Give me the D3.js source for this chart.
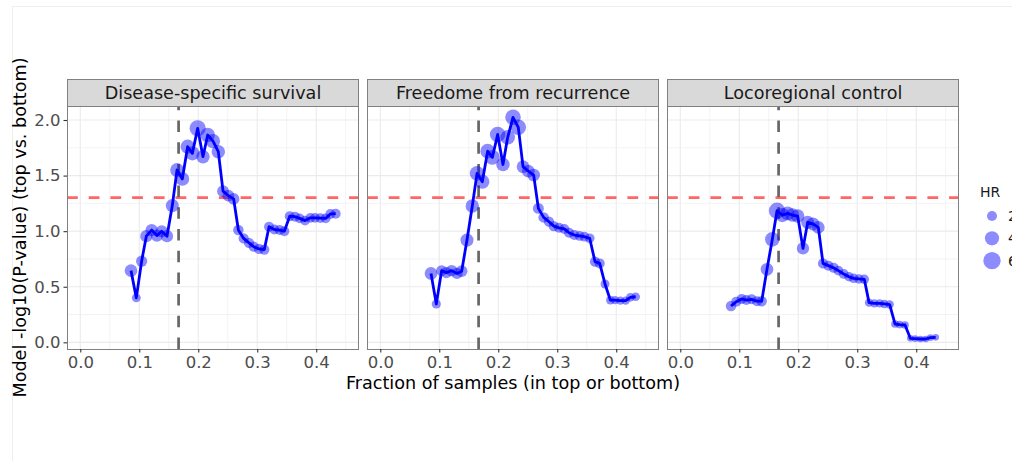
<!DOCTYPE html>
<html>
<head>
<meta charset="utf-8">
<script src="https://cdn.jsdelivr.net/npm/d3@7/dist/d3.min.js"></script>
<style>
  body { margin: 0; background: #fff; }
  svg { display: block; font-family: "DejaVu Sans", sans-serif; }
</style>
</head>
<body>
<div id="chart"></div>
<script>
// fraction of samples put in the top / bottom group (shared by all panels)
var fractions = [0.086, 0.095, 0.104, 0.112, 0.121, 0.130, 0.138, 0.147, 0.156, 0.164,
  0.173, 0.182, 0.190, 0.199, 0.208, 0.216, 0.225, 0.234, 0.242, 0.251,
  0.260, 0.268, 0.277, 0.286, 0.294, 0.303, 0.312, 0.320, 0.329, 0.338,
  0.346, 0.355, 0.364, 0.372, 0.381, 0.390, 0.398, 0.407, 0.416, 0.424, 0.433];

var panelTitles = ["Disease-specific survival", "Freedome from recurrence", "Locoregional control"];

// -log10(P) per panel
var dssValues = [0.645, 0.40, 0.73, 0.955, 1.01, 0.96, 1.00, 0.955, 1.23, 1.55,
  1.47, 1.76, 1.70, 1.925, 1.67, 1.865, 1.81, 1.715, 1.36, 1.32,
  1.29, 1.01, 0.935, 0.895, 0.86, 0.84, 0.835, 1.04, 1.015, 1.01,
  1.00, 1.135, 1.13, 1.115, 1.095, 1.12, 1.12, 1.118, 1.115, 1.155, 1.157];
var ffrValues = [0.62, 0.345, 0.645, 0.627, 0.645, 0.62, 0.64, 0.92, 1.226, 1.52,
  1.445, 1.72, 1.664, 1.87, 1.60, 1.844, 2.024, 1.934, 1.58, 1.54,
  1.505, 1.205, 1.124, 1.085, 1.046, 1.03, 1.02, 0.986, 0.965, 0.957,
  0.95, 0.936, 0.726, 0.71, 0.525, 0.38, 0.38, 0.375, 0.375, 0.405, 0.41];
var lrcValues = [0.327, 0.366, 0.39, 0.38, 0.387, 0.37, 0.37, 0.657, 0.926, 1.184,
  1.145, 1.16, 1.145, 1.136, 0.845, 1.08, 1.065, 1.034, 0.71, 0.69,
  0.67, 0.645, 0.615, 0.59, 0.576, 0.57, 0.567, 0.357, 0.35, 0.35,
  0.345, 0.34, 0.165, 0.16, 0.156, 0.036, 0.033, 0.03, 0.03, 0.042, 0.045];

// hazard ratio per point (point size)
var dssHR = [3.2, 1.6, 2.5, 3.0, 3.0, 3.0, 2.9, 3.0, 3.4, 3.8,
  3.8, 4.0, 4.0, 5.2, 3.6, 4.2, 4.0, 3.6, 2.8, 2.8,
  2.7, 2.2, 2.1, 2.1, 2.1, 2.1, 2.1, 2.0, 2.0, 2.0,
  2.0, 2.0, 2.0, 1.9, 1.9, 1.9, 1.9, 1.9, 1.9, 2.0, 2.0];
var ffrHR = [3.2, 1.7, 2.4, 2.5, 2.6, 2.5, 2.7, 3.4, 3.6, 4.2,
  4.0, 4.2, 4.4, 4.8, 3.6, 4.2, 4.8, 4.8, 3.2, 3.2,
  3.2, 2.4, 2.2, 2.1, 2.1, 2.0, 2.0, 2.0, 2.0, 1.9,
  1.9, 1.9, 2.1, 2.0, 1.6, 1.5, 1.4, 1.4, 1.4, 1.5, 1.5];
var lrcHR = [2.2, 2.0, 2.0, 2.0, 2.0, 2.0, 2.2, 3.2, 4.2, 5.3,
  4.0, 3.8, 3.7, 3.6, 3.0, 3.4, 3.4, 3.2, 2.1, 2.0,
  2.0, 1.9, 1.9, 1.8, 1.8, 1.8, 1.8, 1.4, 1.4, 1.4,
  1.4, 1.4, 1.2, 1.2, 1.2, 0.9, 0.9, 0.9, 0.9, 0.9, 0.9];

var xTicks = [0, 0.1, 0.2, 0.3, 0.4];
var xMinor = [0.05, 0.15, 0.25, 0.35, 0.45];
var yTicks = [0, 0.5, 1, 1.5, 2];
var yMinor = [0.25, 0.75, 1.25, 1.75];
var hrBreaks = [2, 4, 6];
var pCutoff = 0.05;
var splitFraction = 1 / 6;

var panels = [
  {title: panelTitles[0], values: dssValues, hr: dssHR},
  {title: panelTitles[1], values: ffrValues, hr: ffrHR},
  {title: panelTitles[2], values: lrcValues, hr: lrcHR}
];

var width = 1012, height = 461;
var panelLeft = [67, 367, 667], panelW = 292;
var panelTop = 106, panelBottom = 349, stripTop = 79;

var svg = d3.select("#chart").append("svg")
  .attr("width", width)
  .attr("height", height);

// faint outer frame
svg.append("rect")
  .attr("x", 12.5).attr("y", 6.5)
  .attr("width", 1100).attr("height", 500)
  .attr("fill", "none")
  .attr("stroke", "#eeeeee");

var x = d3.scaleLinear().domain([-0.0225, 0.4725]).range([0, panelW]);
var y = d3.scaleLinear().domain([-0.060, 2.126]).range([panelBottom - panelTop, 0]);
var r = d3.scaleRadial().domain([2, 6]).range([5, 8.7]);

var line = d3.line()
  .x(function(d) { return x(d.f); })
  .y(function(d) { return y(d.v); });

panels.forEach(function(p, i) {
  var g = svg.append("g")
    .attr("transform", "translate(" + panelLeft[i] + "," + panelTop + ")");
  var h = panelBottom - panelTop;

  // grid
  g.selectAll("line.xminor").data(xMinor).enter().append("line")
    .attr("x1", function(d) { return x(d); }).attr("x2", function(d) { return x(d); })
    .attr("y1", 0).attr("y2", h)
    .attr("stroke", "#ebebeb").attr("stroke-width", 0.6);
  g.selectAll("line.yminor").data(yMinor).enter().append("line")
    .attr("y1", function(d) { return y(d); }).attr("y2", function(d) { return y(d); })
    .attr("x1", 0).attr("x2", panelW)
    .attr("stroke", "#ebebeb").attr("stroke-width", 0.6);
  g.selectAll("line.xmajor").data(xTicks).enter().append("line")
    .attr("x1", function(d) { return x(d); }).attr("x2", function(d) { return x(d); })
    .attr("y1", 0).attr("y2", h)
    .attr("stroke", "#ebebeb").attr("stroke-width", 1.1);
  g.selectAll("line.ymajor").data(yTicks).enter().append("line")
    .attr("y1", function(d) { return y(d); }).attr("y2", function(d) { return y(d); })
    .attr("x1", 0).attr("x2", panelW)
    .attr("stroke", "#ebebeb").attr("stroke-width", 1.1);

  // reference lines
  g.append("line")
    .attr("x1", 0).attr("x2", panelW)
    .attr("y1", y(-Math.log10(pCutoff))).attr("y2", y(-Math.log10(pCutoff)))
    .attr("stroke", "#ff6666").attr("stroke-width", 2.7)
    .attr("stroke-dasharray", "10.8,10.9");
  g.append("line")
    .attr("x1", x(splitFraction)).attr("x2", x(splitFraction))
    .attr("y1", h).attr("y2", 0)
    .attr("stroke", "#666666").attr("stroke-width", 2.7)
    .attr("stroke-dasharray", "11.5,10.2");

  var pts = fractions.map(function(f, k) { return {f: f, v: p.values[k], hr: p.hr[k]}; });

  g.append("path")
    .datum(pts)
    .attr("d", line)
    .attr("fill", "none")
    .attr("stroke", "#0000ff")
    .attr("stroke-width", 2.8)
    .attr("stroke-linejoin", "round");

  g.selectAll("circle").data(pts).enter().append("circle")
    .attr("cx", function(d) { return x(d.f); })
    .attr("cy", function(d) { return y(d.v); })
    .attr("r", function(d) { return r(d.hr); })
    .attr("fill", "#0000ff")
    .attr("fill-opacity", 0.45);

  // border
  g.append("rect")
    .attr("x", 0.5).attr("y", 0.5)
    .attr("width", panelW - 1).attr("height", h)
    .attr("fill", "none").attr("stroke", "#808080");

  // strip
  svg.append("rect")
    .attr("x", panelLeft[i] + 0.5).attr("y", stripTop + 0.5)
    .attr("width", panelW - 1).attr("height", panelTop - stripTop)
    .attr("fill", "#d9d9d9").attr("stroke", "#808080");
  svg.append("text")
    .attr("x", panelLeft[i] + panelW / 2).attr("y", 99)
    .attr("text-anchor", "middle")
    .attr("font-size", "17.6px")
    .attr("fill", "#1a1a1a")
    .text(p.title);

  // x axis
  var xa = svg.append("g")
    .attr("transform", "translate(" + panelLeft[i] + "," + panelBottom + ")")
    .call(d3.axisBottom(x).tickValues(xTicks).tickFormat(d3.format(".1f")).tickSize(3.5).tickPadding(4));
  xa.select(".domain").remove();
  xa.selectAll(".tick line").attr("stroke", "#333333").attr("stroke-width", 1.1);
  xa.selectAll(".tick text").attr("fill", "#4d4d4d").attr("font-size", "16.5px")
    .attr("font-family", "DejaVu Sans, sans-serif");

  if (i === 0) {
    var ya = svg.append("g")
      .attr("transform", "translate(" + panelLeft[i] + "," + panelTop + ")")
      .call(d3.axisLeft(y).tickValues(yTicks).tickFormat(d3.format(".1f")).tickSize(3.5).tickPadding(3));
    ya.select(".domain").remove();
    ya.selectAll(".tick line").attr("stroke", "#333333").attr("stroke-width", 1.1);
    ya.selectAll(".tick text").attr("fill", "#4d4d4d").attr("font-size", "16.5px")
      .attr("font-family", "DejaVu Sans, sans-serif");
  }
});

// axis titles
svg.append("text")
  .attr("x", (panelLeft[0] + panelLeft[2] + panelW) / 2).attr("y", 389)
  .attr("text-anchor", "middle")
  .attr("font-size", "17.6px")
  .text("Fraction of samples (in top or bottom)");
svg.append("text")
  .attr("transform", "translate(25.5," + ((panelTop + panelBottom) / 2) + ") rotate(-90)")
  .attr("text-anchor", "middle")
  .attr("font-size", "17.6px")
  .text("Model -log10(P-value) (top vs. bottom)");

// size legend (labels run off the right edge, as in the original)
var legend = svg.append("g").attr("transform", "translate(980,0)");
legend.append("text")
  .attr("x", 0).attr("y", 197)
  .attr("font-size", "14px")
  .attr("fill", "#1a1a1a")
  .text("HR");
legend.selectAll("circle").data(hrBreaks).enter().append("circle")
  .attr("cx", 12)
  .attr("cy", function(d, k) { return 216 + k * 22.3; })
  .attr("r", function(d) { return r(d); })
  .attr("fill", "#0000ff")
  .attr("fill-opacity", 0.45);
legend.selectAll("text.lab").data(hrBreaks).enter().append("text")
  .attr("class", "lab")
  .attr("x", 28)
  .attr("y", function(d, k) { return 216 + k * 22.3; })
  .attr("dy", "0.35em")
  .attr("font-size", "14px")
  .attr("fill", "#1a1a1a")
  .text(function(d) { return d; });
</script>
</body>
</html>
